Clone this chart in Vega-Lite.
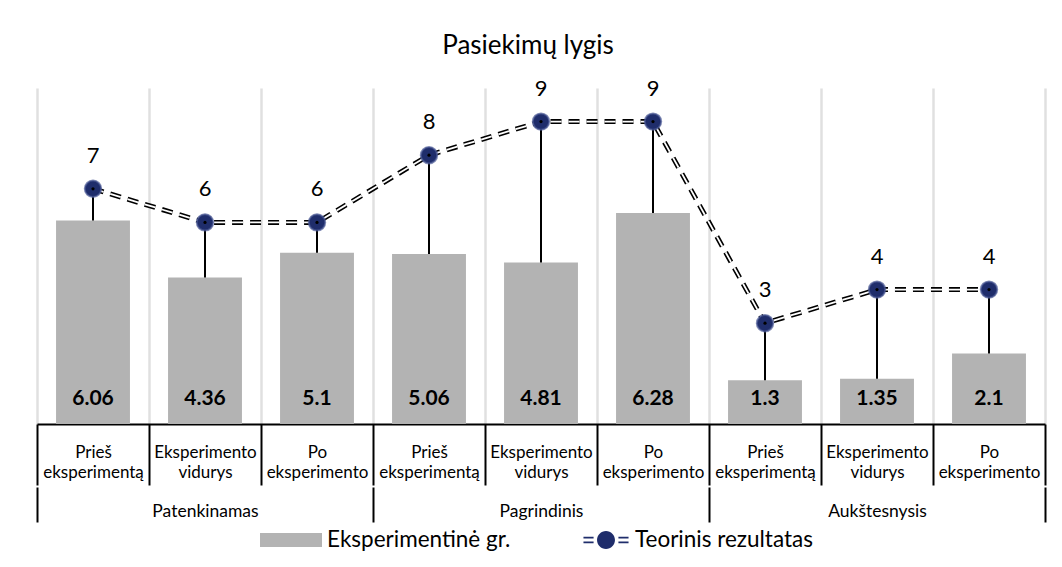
{
  "$schema": "https://vega.github.io/schema/vega-lite/v6.json",
  "width": 1008,
  "height": 336,
  "autosize": {"type": "none"},
  "padding": {"left": 37, "top": 88, "right": 17, "bottom": 143},
  "config": {
    "font": "Lato",
    "view": {"stroke": null}
  },
  "title": {
    "text": "Pasiekimų lygis",
    "fontSize": 26,
    "fontWeight": "normal",
    "color": "#000000",
    "anchor": "middle",
    "frame": "group",
    "offset": 19,
    "dx": -13
  },
  "data": {
    "values": [
      {"k": "1|Prieš eksperimentą", "grp": "Patenkinamas", "bar": 6.06, "theory": 7},
      {"k": "2|Eksperimento vidurys", "grp": "Patenkinamas", "bar": 4.36, "theory": 6},
      {"k": "3|Po eksperimento", "grp": "Patenkinamas", "bar": 5.1, "theory": 6},
      {"k": "4|Prieš eksperimentą", "grp": "Pagrindinis", "bar": 5.06, "theory": 8},
      {"k": "5|Eksperimento vidurys", "grp": "Pagrindinis", "bar": 4.81, "theory": 9},
      {"k": "6|Po eksperimento", "grp": "Pagrindinis", "bar": 6.28, "theory": 9},
      {"k": "7|Prieš eksperimentą", "grp": "Aukštesnysis", "bar": 1.3, "theory": 3},
      {"k": "8|Eksperimento vidurys", "grp": "Aukštesnysis", "bar": 1.35, "theory": 4},
      {"k": "9|Po eksperimento", "grp": "Aukštesnysis", "bar": 2.1, "theory": 4}
    ]
  },
  "layer": [
    {
      "encoding": {
        "x": {
          "field": "k",
          "type": "nominal",
          "sort": null,
          "scale": {"paddingInner": 0, "paddingOuter": 0},
          "axis": {
            "title": null,
            "domainColor": "#000000",
            "domainWidth": 2,
            "tickColor": "#000000",
            "tickWidth": 2,
            "tickSize": 61,
            "tickBand": "extent",
            "grid": true,
            "gridColor": "#e0e0e0",
            "gridWidth": 2.5,
            "labelAngle": 0,
            "labelColor": "#000000",
            "labelFontSize": 17,
            "labelLineHeight": 20,
            "labelPadding": -41,
            "labelBaseline": "top",
            "labelLimit": 0,
            "labelOverlap": false,
            "labelExpr": "datum.label ? split(split(datum.label, '|')[1], ' ') : ''"
          }
        }
      },
      "layer": [
        {
          "mark": {"type": "bar", "width": {"band": 0.66}},
          "encoding": {
            "y": {"field": "bar", "type": "quantitative", "scale": {"domain": [0, 10]}, "axis": null},
            "fill": {
              "datum": "Eksperimentinė gr.",
              "scale": {"range": ["#b3b3b3"]},
              "legend": {
                "orient": "none",
                "legendX": 223,
                "legendY": 421,
                "title": null,
                "symbolType": "M-1,-0.226H1V0.226H-1Z",
                "symbolSize": 3844,
                "symbolStrokeWidth": 0,
                "labelFontSize": 22.5,
                "labelLimit": 0,
                "labelColor": "#000000",
                "labelOffset": 5
              }
            }
          }
        },
        {
          "mark": {"type": "text", "fontWeight": "bold", "fontSize": 21, "dy": -25, "baseline": "middle", "color": "#000000"},
          "encoding": {
            "y": {"datum": 0, "type": "quantitative", "axis": null},
            "text": {"field": "bar", "type": "nominal"}
          }
        },
        {
          "mark": {"type": "rule", "color": "#000000", "strokeWidth": 2},
          "encoding": {
            "y": {"field": "theory", "type": "quantitative", "axis": null},
            "y2": {"field": "bar"}
          }
        },
        {
          "mark": {"type": "line", "color": "#000000", "strokeWidth": 5, "strokeDash": [11, 7]},
          "encoding": {
            "y": {"field": "theory", "type": "quantitative", "axis": null}
          }
        },
        {
          "mark": {"type": "line", "color": "#ffffff", "strokeWidth": 1.8, "strokeDash": [11, 7]},
          "encoding": {
            "y": {"field": "theory", "type": "quantitative", "axis": null}
          }
        },
        {
          "mark": {"type": "point", "filled": true, "size": 270, "opacity": 1, "stroke": "#4a5894", "strokeWidth": 2, "strokeOpacity": 0.7},
          "encoding": {
            "y": {"field": "theory", "type": "quantitative", "axis": null},
            "color": {
              "datum": "Teorinis rezultatas",
              "scale": {"range": ["#1f2d6b"]},
              "legend": {
                "orient": "none",
                "legendX": 546,
                "legendY": 429,
                "title": null,
                "symbolType": "M-0.98,-0.14H-0.54V-0.07H-0.98Z M-0.98,0.07H-0.54V0.14H-0.98Z M0.54,-0.14H0.98V-0.07H0.54Z M0.54,0.07H0.98V0.14H0.54Z M-0.39,0A0.39,0.39 0 1,0 0.39,0A0.39,0.39 0 1,0 -0.39,0Z",
                "symbolSize": 2116,
                "symbolStrokeWidth": 0,
                "symbolOpacity": 1,
                "labelFontSize": 22.5,
                "labelLimit": 0,
                "labelColor": "#000000",
                "labelOffset": 6
              }
            }
          }
        },
        {
          "mark": {"type": "point", "filled": true, "size": 10, "color": "#000000", "opacity": 1},
          "encoding": {
            "y": {"field": "theory", "type": "quantitative", "axis": null}
          }
        },
        {
          "mark": {"type": "text", "fontSize": 22, "dy": -33, "baseline": "middle", "color": "#000000"},
          "encoding": {
            "y": {"field": "theory", "type": "quantitative", "axis": null},
            "text": {"field": "theory", "type": "nominal"}
          }
        }
      ]
    },
    {
      "mark": {"type": "rule", "opacity": 0},
      "encoding": {
        "x": {
          "field": "grp",
          "type": "nominal",
          "sort": ["Patenkinamas", "Pagrindinis", "Aukštesnysis"],
          "scale": {"paddingInner": 0, "paddingOuter": 0},
          "axis": {
            "orient": "bottom",
            "offset": 63,
            "title": null,
            "domain": false,
            "grid": false,
            "ticks": true,
            "tickBand": "extent",
            "tickColor": "#000000",
            "tickWidth": 2,
            "tickSize": 35,
            "labelAngle": 0,
            "labelColor": "#000000",
            "labelFontSize": 17.5,
            "labelBaseline": "top",
            "labelPadding": -20,
            "labelExpr": "datum.label ? datum.label : ''"
          }
        }
      }
    }
  ],
  "resolve": {"scale": {"x": "independent"}}
}
